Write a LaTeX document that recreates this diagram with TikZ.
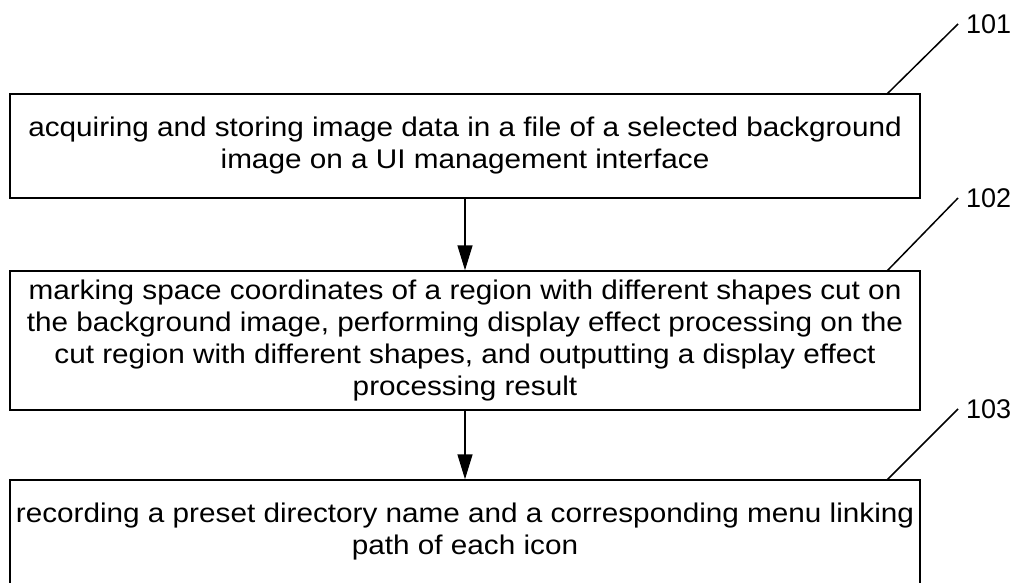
\documentclass[tikz,border=0pt]{standalone}
\usepackage{fontspec}
\setmainfont{Liberation Sans}[FakeStretch=1.1]
\newfontfamily\tagfont{Liberation Sans}
\usepackage{tikz}
\usetikzlibrary{arrows.meta}
\pgfdeclarelayer{edgelayer}
\pgfdeclarelayer{nodelayer}
\pgfsetlayers{edgelayer,nodelayer,main}
\tikzstyle{stepbox}=[rectangle,draw=black,line width=1.5pt,minimum width=910pt,align=center,inner sep=0pt,font=\fontsize{27}{32}\selectfont]
\tikzstyle{tag}=[anchor=west,inner sep=8pt,font=\tagfont\fontsize{27}{30}\selectfont]

\begin{document}
\begin{tikzpicture}[x=1pt,y=-1pt]
            \useasboundingbox (0,0) rectangle (1022,582);
            \begin{pgfonlayer}{nodelayer}
            \node [style = stepbox, minimum height=104pt] (s101) at (465, 146) {acquiring and storing image data in a file of a selected background\\ image on a UI management interface};
            \node [style = stepbox, minimum height=139pt] (s102) at (465, 340.5) {marking space coordinates of a region with different shapes cut on\\ the background image, performing display effect processing on the\\ cut region with different shapes, and outputting a display effect\\ processing result};
            \node [style = stepbox, minimum height=104pt] (s103) at (465, 532) {recording a preset directory name and a corresponding menu linking\\ path of each icon};

            \node [style = tag] (l101) at (958, 24) {101};
            \node [style = tag] (l102) at (958, 198) {102};
            \node [style = tag] (l103) at (958, 409) {103};

            \coordinate (c101) at (887, 94);
            \coordinate (c102) at (887, 271);
            \coordinate (c103) at (887, 480);
            \end{pgfonlayer}

        \begin{pgfonlayer}{edgelayer}
            \draw [-{Triangle[length=25pt,width=15pt]}, line width=1.5pt] (s101) to (s102);
            \draw [-{Triangle[length=25pt,width=15pt]}, line width=1.5pt] (s102) to (s103);

            \draw [line width=1.5pt] (c101) to (l101.west);
            \draw [line width=1.5pt] (c102) to (l102.west);
            \draw [line width=1.5pt] (c103) to (l103.west);
        \end{pgfonlayer}
    \end{tikzpicture}
\end{document}
